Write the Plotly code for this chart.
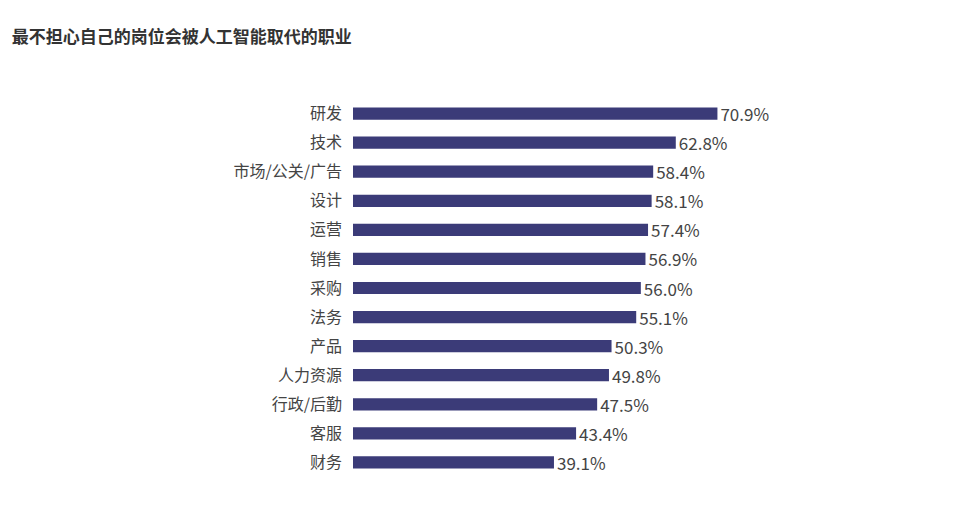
import plotly.graph_objects as go

categories = ["研发","技术","市场/公关/广告","设计","运营","销售","采购","法务","产品","人力资源","行政/后勤","客服","财务"]
values = [70.9,62.8,58.4,58.1,57.4,56.9,56.0,55.1,50.3,49.8,47.5,43.4,39.1]
labels = [f"{v:.1f}%" for v in values]

fig = go.Figure(go.Bar(
    x=values, y=categories, orientation="h",
    marker=dict(color="#3b3b78", line=dict(width=0)),
    text=labels, textposition="outside", cliponaxis=False, constraintext="none",
    textfont=dict(size=17, color="#444444", family="Noto Sans CJK SC"),
))
fig.update_layout(
    width=965, height=522,
    margin=dict(l=345, r=106, t=91, b=53),
    paper_bgcolor="white", plot_bgcolor="white",
    bargap=0.58, showlegend=False,
    uniformtext=dict(minsize=17, mode="show"),
    font=dict(family="Noto Sans CJK SC", size=16, color="#444444"),
    title=dict(text="<b>最不担心自己的岗位会被人工智能取代的职业</b>", x=0.004, xanchor="left",
               y=0.945, yanchor="middle", font=dict(size=17, color="#333333")),
    xaxis=dict(range=[0,100], visible=False),
    yaxis=dict(autorange="reversed", showgrid=False, showline=False, ticks="",
               ticklabelstandoff=10, tickfont=dict(size=16, color="#444444")),
)
fig.write_html("out.html")
